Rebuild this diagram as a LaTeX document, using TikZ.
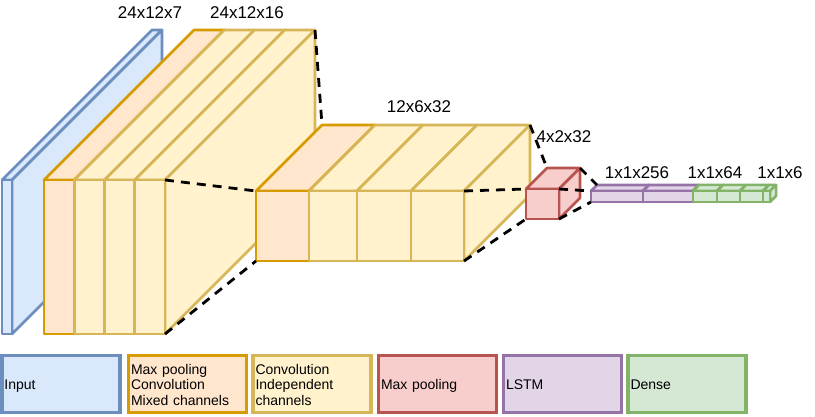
\documentclass[tikz,border=0pt]{standalone}
\usepackage{fontspec}
\setmainfont{Liberation Sans}
\definecolor{inpF}{HTML}{DAE8FC}\definecolor{inpD}{HTML}{6C8EBF}
\definecolor{orF}{HTML}{FFE6CC}\definecolor{orD}{HTML}{D79B00}
\definecolor{yeF}{HTML}{FFF2CC}\definecolor{yeD}{HTML}{D6B656}
\definecolor{reF}{HTML}{F8CECC}\definecolor{reD}{HTML}{B85450}
\definecolor{puF}{HTML}{E1D5E7}\definecolor{puD}{HTML}{9673A6}
\definecolor{grF}{HTML}{D5E8D4}\definecolor{grD}{HTML}{82B366}
% #1 name, #2 x, #3 y (front top-left), #4 width, #5 height, #6 depth, #7 style
\newcommand\cubeslab[7]{%
 \filldraw[#7] (#2,#3) -- ++(#6,-#6) -- ++(#4,0) -- ++(-#6,#6) -- cycle;
 \filldraw[#7] ({#2+#4},#3) -- ++(#6,-#6) -- ++(0,#5) -- ++(-#6,#6) -- cycle;
 \filldraw[#7] (#2,#3) rectangle ++(#4,#5);
 \coordinate (#1-ftl) at (#2,#3);
 \coordinate (#1-ftr) at ({#2+#4},#3);
 \coordinate (#1-fbl) at (#2,{#3+#5});
 \coordinate (#1-fbr) at ({#2+#4},{#3+#5});
 \coordinate (#1-btl) at ({#2+#6},{#3-#6});
 \coordinate (#1-btr) at ({#2+#4+#6},{#3-#6});
}
\newcommand\legtext[1]{\raisebox{-2.5pt}[\height][\depth]{\begin{tabular}{@{}l@{}}#1\end{tabular}}}
\tikzset{
 inputc/.style={fill=inpF,draw=inpD,line width=2.7pt,line join=round},
 orangec/.style={fill=orF,draw=orD,line width=2.8pt,line join=round},
 yellowc/.style={fill=yeF,draw=yeD,line width=2.6pt,line join=round},
 redc/.style={fill=reF,draw=reD,line width=2.6pt,line join=round},
 purplec/.style={fill=puF,draw=puD,line width=2.6pt,line join=round},
 greenc/.style={fill=grF,draw=grD,line width=2.5pt,line join=round},
 link/.style={draw=black,line width=2.8pt,dash pattern=on 9pt off 7pt},
 lbl/.style={font=\fontsize{17pt}{19pt}\selectfont,inner sep=0pt,anchor=base},
 legend/.style={line width=3.2pt,minimum width=118pt,minimum height=57pt,
   text width=113pt,align=left,inner xsep=2.5pt,inner ysep=0pt,
   font=\fontsize{14pt}{15.5pt}\selectfont},
}
\begin{document}
\begin{tikzpicture}[x=1pt,y=-1pt]
\useasboundingbox (0,0) rectangle (815,417);
% input
\cubeslab{inp}{2}{180}{10}{154}{150}{inputc}
% block 1
\cubeslab{a1}{44}{180}{30.25}{154}{150}{orangec}
\cubeslab{a2}{74.25}{180}{30.25}{154}{150}{yellowc}
\cubeslab{a3}{104.5}{180}{30.25}{154}{150}{yellowc}
\cubeslab{a4}{134.75}{180}{30.25}{154}{150}{yellowc}
% block 2
\cubeslab{b1}{256}{191}{53}{70}{66}{orangec}
\cubeslab{b2}{309}{191}{48}{70}{66}{yellowc}
\cubeslab{b3}{357}{191}{54}{70}{66}{yellowc}
\cubeslab{b4}{411}{191}{53}{70}{66}{yellowc}
% max pooling cube
\cubeslab{r}{526}{189}{33}{30}{21}{redc}
% LSTM
\cubeslab{l1}{591}{191}{52}{11}{6}{purplec}
\cubeslab{l2}{643}{191}{50}{11}{6}{purplec}
% dense
\cubeslab{d1}{693}{191}{24}{11}{6}{greenc}
\cubeslab{d2}{717}{191}{23}{11}{6}{greenc}
\cubeslab{d3}{740}{191}{23}{11}{6}{greenc}
\cubeslab{d4}{763}{191}{7}{11}{6}{greenc}
% dashed connectors
\draw[link] (a4-ftr) -- (b1-ftl);
\draw[link] (a4-fbr) -- (b1-fbl);
\draw[link] (a4-btr) -- (b1-btl);
\draw[link] (b4-ftr) -- (r-ftl);
\draw[link] (b4-fbr) -- (r-fbl);
\draw[link] (b4-btr) -- (r-btl);
\draw[link] (r-ftr) -- (l1-ftl);
\draw[link] (r-fbr) -- (l1-fbl);
\draw[link] (r-btr) -- (l1-btl);
% size labels
\node[lbl] (t1) at (150,19) {24x12x7};
\node[lbl] (t2) at (247,19) {24x12x16};
\node[lbl] (t3) at (419,113) {12x6x32};
\node[lbl] (t4) at (564,143) {4x2x32};
\node[lbl] (t5) at (637,179) {1x1x256};
\node[lbl] (t6) at (715,179) {1x1x64};
\node[lbl] (t7) at (780,179) {1x1x6};
% legend
\node[legend,fill=inpF,draw=inpD] (g1) at (61,384) {\legtext{Input}};
\node[legend,fill=orF,draw=orD] (g2) at (187.5,384) {\legtext{Max pooling\\Convolution\\Mixed channels}};
\node[legend,fill=yeF,draw=yeD] (g3) at (312,384) {\legtext{Convolution\\Independent\\channels}};
\node[legend,fill=reF,draw=reD] (g4) at (437.5,384) {\legtext{Max pooling}};
\node[legend,fill=puF,draw=puD] (g5) at (562.5,384) {\legtext{LSTM}};
\node[legend,fill=grF,draw=grD] (g6) at (687,384) {\legtext{Dense}};
\end{tikzpicture}
\end{document}
